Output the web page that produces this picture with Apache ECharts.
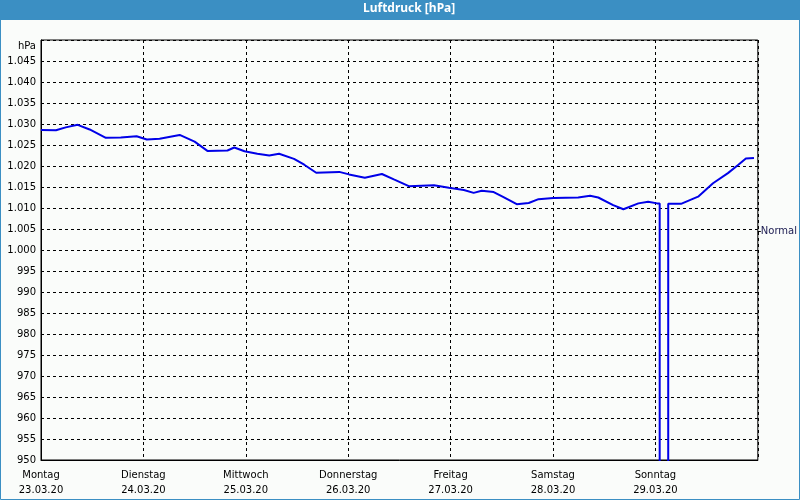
<!DOCTYPE html>
<html>
<head>
<meta charset="utf-8">
<script src="https://cdn.jsdelivr.net/npm/echarts@6/dist/echarts.min.js"></script>
<style>html,body{margin:0;padding:0;background:#fafcfa;}#c{width:800px;height:500px;}</style>
</head>
<body>
<div id="c"></div>
<script>
// Day labels (x axis), one per 24 h
var dayNames = ['Montag','Dienstag','Mittwoch','Donnerstag','Freitag','Samstag','Sonntag'];
var dayDates = ['23.03.20','24.03.20','25.03.20','26.03.20','27.03.20','28.03.20','29.03.20'];
// Hours since Monday 00:00
var hours = [0,3.5,5.8,8.6,11.4,15.2,18.7,22.4,24.8,27.8,
             32.5,36,39,43.7,45.3,47.7,50.7,53.5,55.8,59.3,
             61.7,64.5,69.9,72.2,75.9,79.9,82.7,86.2,92.1,95.6,
             99.1,101.4,103.3,106.1,108.4,111.5,114.3,116.6,120.1,125.9,
             128.7,130.6,134.1,136.5,140,142.3,144.4,145,145,147,
             147,150,154,157.5,161,163.3,165.2,167.1];
// Air pressure in hPa (0 = missing reading / dropout)
var pressure = [1028.6,1028.5,1029.2,1029.8,1028.7,1026.7,1026.8,1027.1,1026.3,1026.5,
                1027.4,1025.8,1023.6,1023.7,1024.4,1023.5,1022.9,1022.5,1022.9,1021.7,
                1020.3,1018.4,1018.6,1018.0,1017.2,1018.1,1016.8,1015.2,1015.4,1014.8,
                1014.3,1013.6,1014.1,1013.8,1012.6,1010.9,1011.2,1012.1,1012.4,1012.5,
                1012.9,1012.5,1010.7,1009.7,1011.1,1011.5,1011.1,1011.1,0,0,
                1011.0,1011.0,1012.7,1015.9,1018.3,1020.2,1021.8,1021.9];
var normalValue = 1004.5;
var normalLabel = 'Normal';
var titleText = 'Luftdruck [hPa]';
var unitLabel = 'hPa';

var seriesData = hours.map(function (h, i) { return [h, pressure[i]]; });

function fmtP(v) {
  if (v >= 1050) return '';
  var s = String(v);
  if (v >= 1000) s = s.replace(/(\d)(\d{3})$/, '$1.$2');
  return s;
}

var font = 'DejaVu Sans';
var chart = echarts.init(document.getElementById('c'), null, {renderer: 'canvas'});
chart.setOption({
  backgroundColor: '#fafcfa',
  animation: false,
  title: {
    text: titleText,
    left: 363, top: 3, padding: 0,
    textStyle: {color: '#ffffff', fontFamily: 'Noto Sans', fontWeight: 'bold', fontSize: 12}
  },
  graphic: [
    {type: 'rect', z: -1, shape: {x: 0, y: 0, width: 800, height: 20}, style: {fill: '#3b8fc3'}},
    {type: 'rect', z: 10, shape: {x: 0.5, y: 0.5, width: 799, height: 499}, style: {fill: 'none', stroke: '#3b8fc3', lineWidth: 1}}
  ],
  grid: {left: 41, right: 40, top: 40, bottom: 40, show: true, borderColor: '#000', borderWidth: 1, backgroundColor: 'transparent'},
  xAxis: {
    type: 'value', min: 0, max: 168, interval: 24,
    axisLine: {show: true, lineStyle: {color: '#000', width: 1}},
    axisTick: {show: false},
    splitLine: {show: true, lineStyle: {color: '#000', type: [3, 3], width: 1}},
    axisLabel: {
      margin: 8, color: '#000', fontFamily: font, fontSize: 10, lineHeight: 15,
      formatter: function (v) {
        var i = Math.round(v / 24);
        return i < dayNames.length ? dayNames[i] + '\n' + dayDates[i] : '';
      }
    }
  },
  yAxis: [{
    type: 'value', min: 950, max: 1050, interval: 5,
    name: unitLabel, nameLocation: 'end', nameGap: -6,
    nameTextStyle: {color: '#000', fontFamily: font, fontSize: 10, align: 'right', verticalAlign: 'middle', padding: [0, 5, 0, 0]},
    axisLine: {show: true, lineStyle: {color: '#000', width: 1}},
    axisTick: {show: false},
    splitLine: {show: true, lineStyle: {color: '#000', type: [3, 3], width: 1}},
    axisLabel: {margin: 5, color: '#000', fontFamily: font, fontSize: 10, formatter: fmtP}
  }, {
    type: 'value', min: 950, max: 1050, position: 'right',
    axisLine: {show: false},
    splitLine: {show: false},
    axisTick: {show: true, length: 3, lineStyle: {color: '#000'}, customValues: [normalValue]},
    axisLabel: {show: true, margin: 3, color: '#1a1a50', fontFamily: font, fontSize: 10, customValues: [normalValue], formatter: function () { return normalLabel; }}
  }],
  series: [{
    type: 'line', data: seriesData, showSymbol: false, symbol: 'none',
    clip: true,
    lineStyle: {color: '#0000e8', width: 2},
    itemStyle: {color: '#0000e8'}
  }]
});
</script>
</body>
</html>
